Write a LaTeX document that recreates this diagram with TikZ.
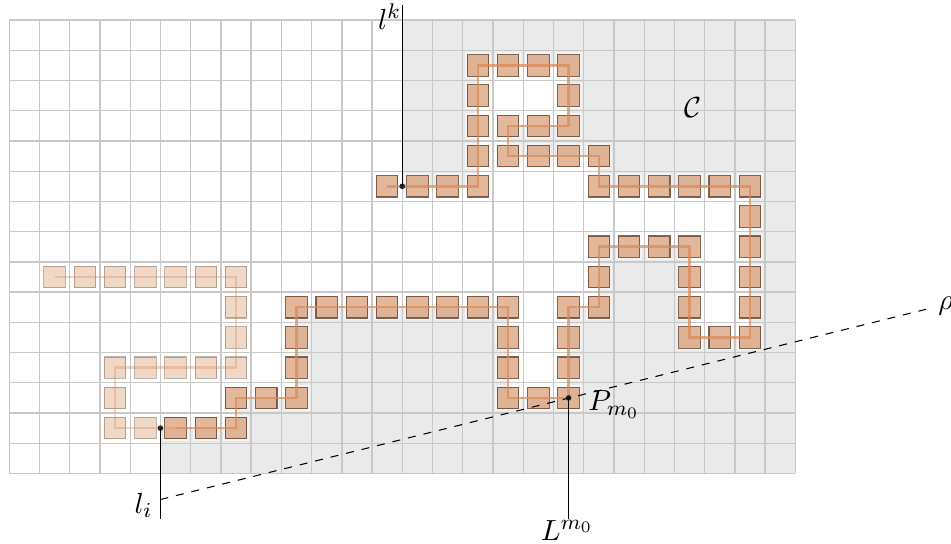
\documentclass[tikz,border=0pt]{standalone}
\definecolor{gridc}{HTML}{C8C8C8}
\definecolor{regionc}{HTML}{EAEAEA}
\definecolor{sqfill}{RGB}{205,125,70}
\definecolor{sqdraw}{HTML}{6B4A38}
\definecolor{curvec}{HTML}{D88A58}
\tikzset{
  cellgrid/.style={draw=gridc,line width=.5pt},
  halo/.style={fill=white,opacity=.45,draw=none},
  sqbox/.style={draw=sqdraw,fill=sqfill,fill opacity=.55,draw opacity=.85,line width=.42pt,minimum size=.284cm,inner sep=0pt,outer sep=0pt},
  sqfaint/.style={draw=sqdraw,fill=sqfill,fill opacity=.3,draw opacity=.42,line width=.42pt,minimum size=.284cm,inner sep=0pt,outer sep=0pt},
  curvedark/.style={draw=curvec,opacity=.7,line width=.95pt},
  curvefaint/.style={draw=curvec,opacity=.35,line width=.95pt},
  lead/.style={draw=black,line width=.5pt},
  rayline/.style={draw=black,line width=.4pt,dashed},
  pointdot/.style={circle,fill=black!85,inner sep=0pt,minimum size=.075cm},
  lab/.style={inner sep=0pt,font=\fontsize{11.4}{13}\selectfont}
}
\begin{document}
\begin{tikzpicture}[x=.4cm,y=-.4cm]
\useasboundingbox (-.308,-.662) rectangle (31.15,17.32);
% region C
\fill[regionc] (13,0) -- (26,0) -- (26,15) -- (5,15) -- (5,13.5) -- (7.5,13.5) -- (7.5,12.5) -- (9.5,12.5) -- (9.5,9.5) -- (16.5,9.5) -- (16.5,12.5) -- (18.5,12.5) -- (18.5,9.5) -- (19.5,9.5) -- (19.5,7.5) -- (22.5,7.5) -- (22.5,10.5) -- (24.5,10.5) -- (24.5,5.5) -- (19.5,5.5) -- (19.5,4.5) -- (16.5,4.5) -- (16.5,3.5) -- (18.5,3.5) -- (18.5,1.5) -- (15.5,1.5) -- (15.5,5.5) -- (13,5.5) -- cycle;
% halos of the dark squares
\foreach \c/\r in {15.5/1.5,16.5/1.5,17.5/1.5,18.5/1.5,15.5/2.5,18.5/2.5,15.5/3.5,16.5/3.5,17.5/3.5,18.5/3.5,15.5/4.5,16.5/4.5,17.5/4.5,18.5/4.5,19.5/4.5,12.5/5.5,13.5/5.5,14.5/5.5,15.5/5.5,19.5/5.5,20.5/5.5,21.5/5.5,22.5/5.5,23.5/5.5,24.5/5.5,24.5/6.5,19.5/7.5,20.5/7.5,21.5/7.5,22.5/7.5,24.5/7.5,19.5/8.5,22.5/8.5,24.5/8.5,18.5/9.5,19.5/9.5,22.5/9.5,24.5/9.5,9.5/9.5,10.5/9.5,11.5/9.5,12.5/9.5,13.5/9.5,14.5/9.5,15.5/9.5,16.5/9.5,9.5/10.5,16.5/10.5,18.5/10.5,22.5/10.5,23.5/10.5,24.5/10.5,9.5/11.5,16.5/11.5,18.5/11.5,7.5/12.5,8.5/12.5,9.5/12.5,16.5/12.5,17.5/12.5,18.5/12.5,5.5/13.5,6.5/13.5,7.5/13.5}
  \fill[halo] (\c-.43,\r-.43) rectangle (\c+.43,\r+.43);
% grid
\foreach \i in {0,...,26} \draw[cellgrid] (\i,0) -- (\i,15);
\foreach \j in {0,...,15} \draw[cellgrid] (0,\j) -- (26,\j);
% faint squares
\foreach \c/\r in {1.5/8.5,2.5/8.5,3.5/8.5,4.5/8.5,5.5/8.5,6.5/8.5,7.5/8.5,7.5/9.5,7.5/10.5,3.5/11.5,4.5/11.5,5.5/11.5,6.5/11.5,7.5/11.5,3.5/12.5,3.5/13.5,4.5/13.5}
  \node[sqfaint] (f\c-\r) at (\c,\r) {};
% dark squares
\foreach \c/\r in {15.5/1.5,16.5/1.5,17.5/1.5,18.5/1.5,15.5/2.5,18.5/2.5,15.5/3.5,16.5/3.5,17.5/3.5,18.5/3.5,15.5/4.5,16.5/4.5,17.5/4.5,18.5/4.5,19.5/4.5,12.5/5.5,13.5/5.5,14.5/5.5,15.5/5.5,19.5/5.5,20.5/5.5,21.5/5.5,22.5/5.5,23.5/5.5,24.5/5.5,24.5/6.5,19.5/7.5,20.5/7.5,21.5/7.5,22.5/7.5,24.5/7.5,19.5/8.5,22.5/8.5,24.5/8.5,18.5/9.5,19.5/9.5,22.5/9.5,24.5/9.5,9.5/9.5,10.5/9.5,11.5/9.5,12.5/9.5,13.5/9.5,14.5/9.5,15.5/9.5,16.5/9.5,9.5/10.5,16.5/10.5,18.5/10.5,22.5/10.5,23.5/10.5,24.5/10.5,9.5/11.5,16.5/11.5,18.5/11.5,7.5/12.5,8.5/12.5,9.5/12.5,16.5/12.5,17.5/12.5,18.5/12.5,5.5/13.5,6.5/13.5,7.5/13.5}
  \node[sqbox] (d\c-\r) at (\c,\r) {};
% curve
\draw[curvefaint] (1.5,8.5) -- (7.5,8.5) -- (7.5,11.5) -- (3.5,11.5) -- (3.5,13.5) -- (5.5,13.5);
\draw[curvedark] (5.5,13.5) -- (7.5,13.5) -- (7.5,12.5) -- (9.5,12.5) -- (9.5,9.5) -- (16.5,9.5) -- (16.5,12.5) -- (18.5,12.5) -- (18.5,9.5) -- (19.5,9.5) -- (19.5,7.5) -- (22.5,7.5) -- (22.5,10.5) -- (24.5,10.5) -- (24.5,5.5) -- (19.5,5.5) -- (19.5,4.5) -- (16.5,4.5) -- (16.5,3.5) -- (18.5,3.5) -- (18.5,1.5) -- (15.5,1.5) -- (15.5,5.5) -- (12.5,5.5);
% points and leads
\node[pointdot] (pi) at (5,13.5) {};
\node[pointdot] (pk) at (13,5.5) {};
\node[pointdot] (pm) at (18.5,12.5) {};
\coordinate (li) at (5,16.52);
\coordinate (lk) at (13,-.5);
\coordinate (lm) at (18.5,16.5);
\coordinate (ra) at (5,15.86);
\coordinate (rb) at (30.32,9.57);
\draw[rayline] (ra) -- (rb);
\draw[lead] (pi.center) -- (li);
\draw[lead] (pk.center) -- (lk);
\draw[lead] (pm.center) -- (lm);
% labels
\node[lab] (tli) at (4.44,16.05) {$l_i$};
\node[lab] (tlk) at (12.58,-.12) {$l^k$};
\node[lab] (tlm) at (18.45,16.88) {$L^{m_0}$};
\node[lab] (tpm) at (20,12.72) {$P_{m_0}$};
\node[lab] (tc) at (22.6,2.9) {$\mathcal{C}$};
\node[lab] (trho) at (30.98,9.45) {$\rho$};
\end{tikzpicture}
\end{document}
